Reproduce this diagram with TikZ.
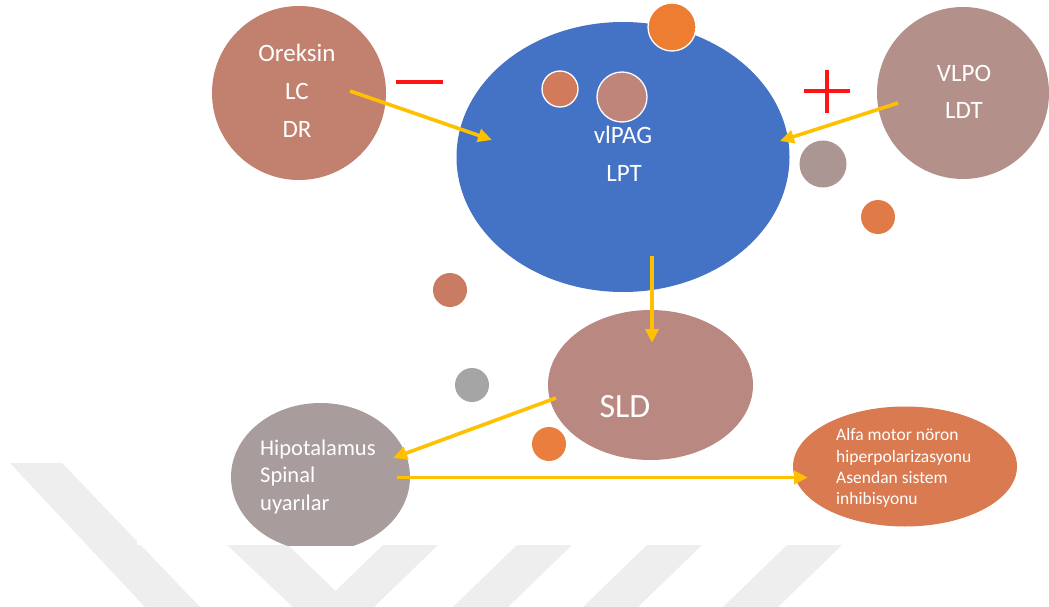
\documentclass[tikz,border=0pt]{standalone}
\usepackage{fontspec}
\setmainfont{Carlito}
\usetikzlibrary{arrows.meta,shapes.geometric}
\definecolor{wm}{RGB}{238,238,238}
\definecolor{cOrek}{RGB}{194,128,110}
\definecolor{cBlue}{RGB}{68,114,196}
\definecolor{cSm1}{RGB}{210,122,92}
\definecolor{cSm2}{RGB}{192,133,122}
\definecolor{cOrange}{RGB}{237,125,49}
\definecolor{cVlpo}{RGB}{179,144,138}
\definecolor{cMauve}{RGB}{172,150,148}
\definecolor{cOr2}{RGB}{224,123,72}
\definecolor{cBrown}{RGB}{201,124,98}
\definecolor{cSld}{RGB}{185,136,128}
\definecolor{cGray}{RGB}{165,165,165}
\definecolor{cOr3}{RGB}{233,126,62}
\definecolor{cHipo}{RGB}{169,156,156}
\definecolor{cAlfa}{RGB}{217,122,80}
\definecolor{yel}{RGB}{255,192,0}
\definecolor{sign}{RGB}{255,20,20}
\begin{document}
\begin{tikzpicture}[x=1pt,y=-1pt,
  blob/.style={circle,inner sep=0pt,minimum size=#1},
  oval/.style n args={2}{ellipse,inner sep=0pt,minimum width=#1,minimum height=#2},
  rim/.style={draw=white,line width=1.3pt},
  arr/.style={draw=yel,line width=3.6pt,-{Triangle[length=14pt,width=13pt]}},
  signline/.style={draw=sign,line width=3.6pt},
  lbl/.style={text=white,inner sep=0pt,anchor=base},
  lblw/.style={text=white,inner sep=0pt,anchor=base west}]
\useasboundingbox (0,0) rectangle (1049,607);
\fill[white] (0,0) rectangle (1049,607);
% faint watermark
\fill[wm] (10,463) -- (62,463) -- (200,607) -- (145,607) -- cycle;
\fill[wm] (227,545) -- (288,545) -- (352,607) -- (293,607) -- cycle;
\foreach \x in {383,517,647,787}
  \fill[wm] (\x,545) -- (\x+55,545) -- (\x-9,607) -- (\x-64,607) -- cycle;
\fill[white] (137,0) rectangle (1049,545);
% shapes
\node[blob=174pt,fill=cOrek] (orek) at (299,93) {};
\node[oval={333pt}{270pt},fill=cBlue] (pag) at (623,157) {};
\node[blob=36pt,fill=cSm1,rim] (s1) at (560,89) {};
\node[blob=50pt,fill=cSm2,rim] (s2) at (622,97) {};
\node[blob=48pt,fill=cOrange,rim] (s3) at (672,27) {};
\node[blob=172pt,fill=cVlpo] (vlpo) at (963,93) {};
\node[blob=47pt,fill=cMauve] (s4) at (823,164) {};
\node[blob=34pt,fill=cOr2] (s5) at (878,217) {};
\node[blob=34pt,fill=cBrown] (s6) at (450,290) {};
\node[oval={205pt}{150pt},fill=cSld] (sld) at (650.5,385) {};
\node[blob=34pt,fill=cGray] (s7) at (472,385) {};
\node[blob=34pt,fill=cOr3] (s8) at (549,444) {};
\begin{scope}
\clip (0,0) rectangle (1049,545);
\node[oval={179pt}{148pt},fill=cHipo] (hipo) at (320.5,477) {};
\end{scope}
\node[oval={224pt}{120pt},fill=cAlfa] (alfa) at (905,466.5) {};
% red signs
\draw[signline] (396,82) -- (443,82);
\draw[signline] (804,91) -- (850,91);
\draw[signline] (827,70) -- (827,113);
% labels
\begin{scope}[font=\fontsize{25}{30}\selectfont]
\node[lbl] (t1) at (297,62) {Oreksin};
\node[lbl] (t2) at (297,99.5) {LC};
\node[lbl] (t3) at (297,138) {DR};
\node[lbl] (t4) at (623,143) {vlPAG};
\node[lbl] (t5) at (624,181) {LPT};
\node[lbl] (t6) at (964,82) {VLPO};
\node[lbl] (t7) at (964,119) {LDT};
\end{scope}
\node[lbl,font=\fontsize{34}{40}\selectfont] (t8) at (625,417) {SLD};
\begin{scope}[font=\fontsize{22.5}{27}\selectfont]
\node[lblw] (t9) at (260,455.7) {Hipotalamus};
\node[lblw] (t10) at (260,482.7) {Spinal};
\node[lblw] (t11) at (260,510) {uyarılar};
\end{scope}
\begin{scope}[font=\fontsize{17.5}{21}\selectfont]
\node[lblw] (t12) at (836,440.7) {Alfa motor nöron};
\node[lblw] (t13) at (836,462) {hiperpolarizasyonu};
\node[lblw] (t14) at (836,483) {Asendan sistem};
\node[lblw] (t15) at (836,504) {inhibisyonu};
\end{scope}
% connector end points
\coordinate (a1s) at (350,91);   \coordinate (a1e) at (492,140);
\coordinate (a2s) at (898,103);  \coordinate (a2e) at (780,141);
\coordinate (a3s) at (652,256);  \coordinate (a3e) at (652,343);
\coordinate (a4s) at (556,398);  \coordinate (a4e) at (393,458);
\coordinate (a5s) at (397,477.5);\coordinate (a5e) at (808,477.5);
\draw[arr] (a1s) -- (a1e);
\draw[arr] (a2s) -- (a2e);
\draw[arr] (a3s) -- (a3e);
\draw[arr] (a4s) -- (a4e);
\draw[arr] (a5s) -- (a5e);
\end{tikzpicture}
\end{document}
